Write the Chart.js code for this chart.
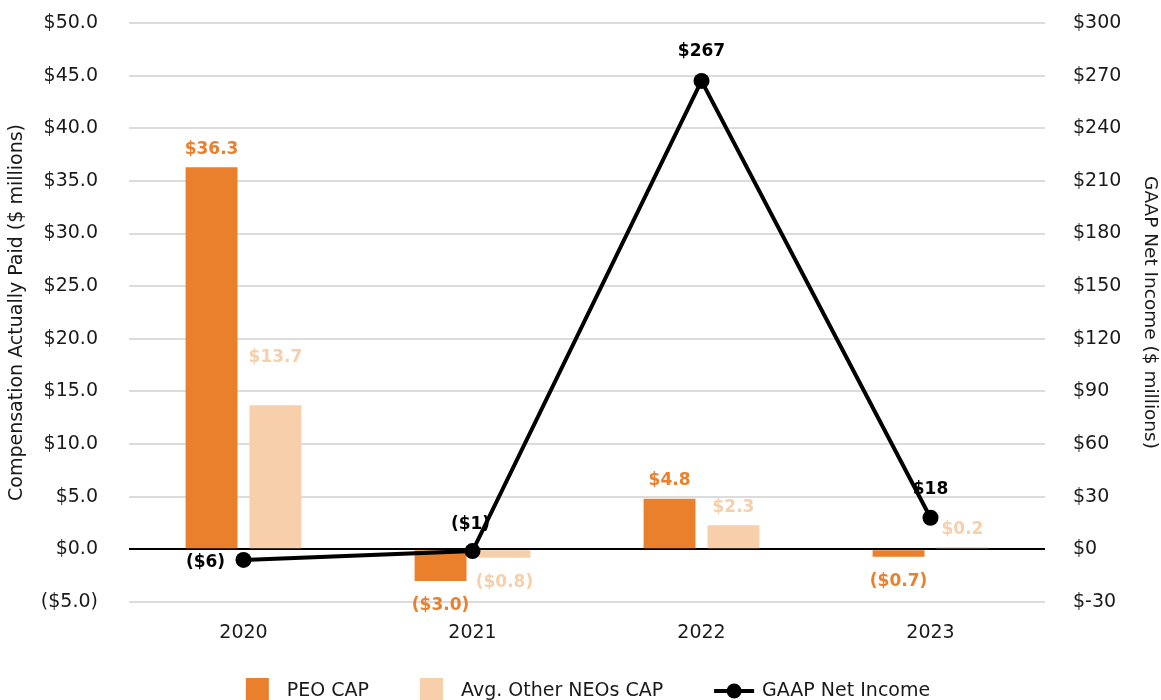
<!DOCTYPE html>
<html><head><meta charset="utf-8">
<script src="https://cdn.jsdelivr.net/npm/chart.js@4.4.1/dist/chart.umd.min.js"></script>
<style>html,body{margin:0;padding:0;background:#fff}#wrap{width:1161px;height:700px}</style>
</head><body><div id="wrap"><canvas id="c" width="1161" height="700"></canvas></div>
<script>
// ---- data ----
const years = ['2020', '2021', '2022', '2023'];
const peoCap = [36.3, -3.0, 4.8, -0.7];
const avgOtherNeosCap = [13.7, -0.8, 2.3, 0.2];
const gaapNetIncome = [-6, -1, 267, 18];
const seriesNames = ['PEO CAP', 'Avg. Other NEOs CAP', 'GAAP Net Income'];
const leftAxisRange = { min: -5, max: 50, step: 5 };
const rightAxisRange = { min: -30, max: 300, step: 30 };

// ---- styles ----
const FONT = '"DejaVu Sans", sans-serif';
const TXT = '#1a1a1a';
const ORANGE = '#EA7F2C';
const PEACH = '#F7CFAB';

function money1(v) {
  const a = Math.abs(v).toFixed(1);
  return v < 0 ? '($' + a + ')' : '$' + a;
}
function money0(v) {
  const a = Math.abs(v).toFixed(0);
  return v < 0 ? '($' + a + ')' : '$' + a;
}

// label placement tweaks (px)
const barLabelGapAbove = 18, barLabelGapBelow = 25;
const extraBarLift = { '1-0': 30 };
const lineLabelShift = [{dx: -38, dy: 3}, {dx: -2, dy: -27}, {dx: 0, dy: -29}, {dx: 0, dy: -28}];

const labelsPlugin = {
  id: 'valueLabels',
  afterDatasetsDraw(chart) {
    const ctx = chart.ctx;
    ctx.save();
    ctx.font = 'bold 17px ' + FONT;
    ctx.textAlign = 'center';
    ctx.textBaseline = 'middle';
    chart.data.datasets.forEach((ds, di) => {
      const meta = chart.getDatasetMeta(di);
      meta.data.forEach((el, i) => {
        const v = ds.data[i];
        if (ds.type === 'line') {
          const s = lineLabelShift[i];
          ctx.fillStyle = '#000';
          ctx.fillText(money0(v), el.x + s.dx, el.y + s.dy);
        } else {
          ctx.fillStyle = ds.backgroundColor;
          let y;
          if (v >= 0) y = el.y - barLabelGapAbove - (extraBarLift[di + '-' + i] || 0);
          else y = el.y + barLabelGapBelow;
          ctx.fillText(money1(v), el.x, y);
        }
      });
    });
    ctx.restore();
  }
};

const legendPlugin = {
  id: 'customLegend',
  afterDraw(chart) {
    const ctx = chart.ctx;
    ctx.save();
    ctx.font = '19px ' + FONT;
    ctx.textBaseline = 'middle';
    ctx.textAlign = 'left';
    const items = chart.data.datasets.map(ds => {
      const isLine = ds.type === 'line';
      const sym = isLine ? 40 : 23;
      const gap = isLine ? 8 : 18;
      const tw = ctx.measureText(ds.label).width;
      return { ds, isLine, sym, gap, tw, w: sym + gap + tw };
    });
    const itemGap = 51;
    const total = items.reduce((a, it) => a + it.w, 0) + itemGap * (items.length - 1);
    const ca = chart.chartArea;
    let x = (ca.left + ca.right) / 2 - total / 2 + 1;
    const cy = 691;
    items.forEach(it => {
      if (it.isLine) {
        ctx.strokeStyle = '#000';
        ctx.lineWidth = 4;
        ctx.beginPath();
        ctx.moveTo(x, cy);
        ctx.lineTo(x + it.sym, cy);
        ctx.stroke();
        ctx.fillStyle = '#000';
        ctx.beginPath();
        ctx.arc(x + it.sym / 2, cy, 7.5, 0, Math.PI * 2);
        ctx.fill();
      } else {
        ctx.fillStyle = it.ds.backgroundColor;
        ctx.fillRect(x, cy - 13, 23, 24);
      }
      ctx.fillStyle = TXT;
      ctx.fillText(it.ds.label, x + it.sym + it.gap, cy);
      x += it.w + itemGap;
    });
    ctx.restore();
  }
};

new Chart(document.getElementById('c'), {
  data: {
    labels: years,
    datasets: [
      { type: 'bar', label: seriesNames[0], data: peoCap, backgroundColor: ORANGE, yAxisID: 'y', order: 1,
        categoryPercentage: 0.558, barPercentage: 0.8125 },
      { type: 'bar', label: seriesNames[1], data: avgOtherNeosCap, backgroundColor: PEACH, yAxisID: 'y', order: 1,
        categoryPercentage: 0.558, barPercentage: 0.8125 },
      { type: 'line', label: seriesNames[2], data: gaapNetIncome, borderColor: '#000', backgroundColor: '#000',
        borderWidth: 4, pointRadius: 8, pointBackgroundColor: '#000', pointBorderWidth: 0, tension: 0,
        yAxisID: 'y1', order: 0 }
    ]
  },
  options: {
    responsive: false,
    animation: false,
    devicePixelRatio: 1,
    layout: { padding: { top: 23, bottom: 0, left: 0, right: 0 } },
    plugins: { legend: { display: false }, tooltip: { enabled: false } },
    scales: {
      x: {
        grid: { display: false, drawTicks: false },
        border: { display: false },
        ticks: { font: { family: FONT, size: 19 }, color: TXT, padding: 20 },
        afterFit: s => { s.height = 98; }
      },
      y: {
        position: 'left',
        min: leftAxisRange.min, max: leftAxisRange.max,
        border: { display: false },
        grid: {
          drawTicks: false,
          color: c => c.tick && c.tick.value === 0 ? '#000' : '#dcdcdc',
          lineWidth: 2
        },
        ticks: { stepSize: leftAxisRange.step, callback: v => money1(v), font: { family: FONT, size: 19 }, color: TXT, padding: 31 },
        title: { display: true, text: 'Compensation Actually Paid ($ millions)', font: { family: FONT, size: 19 }, color: TXT, padding: { top: 6, bottom: 0 } },
        afterFit: s => { s.width = 129; s.paddingTop = 0; s.paddingBottom = 0; }
      },
      y1: {
        position: 'right',
        min: rightAxisRange.min, max: rightAxisRange.max,
        border: { display: false },
        grid: { display: false, drawTicks: false },
        ticks: { stepSize: rightAxisRange.step, callback: v => '$' + v, font: { family: FONT, size: 19 }, color: TXT, padding: 28 },
        title: { display: true, text: 'GAAP Net Income ($ millions)', font: { family: FONT, size: 18.5 }, color: TXT, padding: { top: 0, bottom: 0 } },
        afterFit: s => { s.width = 116; s.paddingTop = 0; s.paddingBottom = 0; }
      }
    }
  },
  plugins: [labelsPlugin, legendPlugin]
});
</script></body></html>
